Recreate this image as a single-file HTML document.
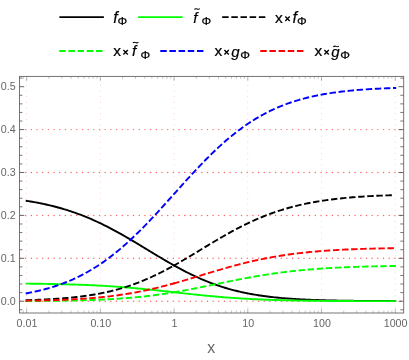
<!DOCTYPE html>
<html><head><meta charset="utf-8"><title>plot</title>
<style>html,body{margin:0;padding:0;background:#fff;}svg{display:block;will-change:transform;font-family:"Liberation Sans",sans-serif;}</style></head>
<body>
<svg width="409" height="360" viewBox="0 0 409 360">
<rect width="409" height="360" fill="#fff"/>
<g stroke="#ff6262" stroke-width="1.45" stroke-linecap="round" stroke-dasharray="0 5.68" fill="none">
<path d="M20.00 301.20 H403.70"/>
<path d="M20.00 258.30 H403.70"/>
<path d="M20.00 215.40 H403.70"/>
<path d="M20.00 172.50 H403.70"/>
<path d="M20.00 129.60 H403.70"/>
</g>
<g stroke="#ffc4c4" stroke-width="1.0" stroke-linecap="round" stroke-dasharray="0 5.685" fill="none">
<path d="M26.65 312.70 V76.40"/>
<path d="M100.37 312.70 V76.40"/>
<path d="M174.09 312.70 V76.40"/>
<path d="M247.81 312.70 V76.40"/>
<path d="M321.53 312.70 V76.40"/>
<path d="M395.25 312.70 V76.40"/>
</g>
<clipPath id="c"><rect x="19.5" y="76.4" width="384.2" height="236.6"/></clipPath>
<g fill="none" stroke-width="1.9" stroke-linejoin="round" stroke-linecap="square" clip-path="url(#c)">
<path d="M26.65 200.86 L28.50 201.15 L30.35 201.45 L32.21 201.77 L34.06 202.09 L35.91 202.43 L37.76 202.78 L39.62 203.14 L41.47 203.51 L43.32 203.90 L45.17 204.30 L47.02 204.71 L48.88 205.13 L50.73 205.57 L52.58 206.03 L54.43 206.50 L56.29 206.98 L58.14 207.48 L59.99 207.99 L61.84 208.52 L63.70 209.07 L65.55 209.63 L67.40 210.21 L69.25 210.80 L71.10 211.41 L72.96 212.04 L74.81 212.68 L76.66 213.34 L78.51 214.02 L80.37 214.71 L82.22 215.43 L84.07 216.15 L85.92 216.90 L87.77 217.66 L89.63 218.44 L91.48 219.24 L93.33 220.06 L95.18 220.89 L97.04 221.74 L98.89 222.60 L100.74 223.48 L102.59 224.38 L104.44 225.29 L106.30 226.22 L108.15 227.16 L110.00 228.12 L111.85 229.09 L113.71 230.07 L115.56 231.07 L117.41 232.08 L119.26 233.11 L121.12 234.14 L122.97 235.19 L124.82 236.25 L126.67 237.31 L128.52 238.39 L130.38 239.47 L132.23 240.57 L134.08 241.66 L135.93 242.77 L137.79 243.88 L139.64 244.99 L141.49 246.11 L143.34 247.23 L145.19 248.36 L147.05 249.48 L148.90 250.60 L150.75 251.73 L152.60 252.85 L154.46 253.97 L156.31 255.08 L158.16 256.19 L160.01 257.30 L161.87 258.40 L163.72 259.49 L165.57 260.58 L167.42 261.66 L169.27 262.72 L171.13 263.78 L172.98 264.83 L174.83 265.86 L176.68 266.89 L178.54 267.90 L180.39 268.89 L182.24 269.88 L184.09 270.84 L185.94 271.80 L187.80 272.73 L189.65 273.65 L191.50 274.56 L193.35 275.44 L195.21 276.31 L197.06 277.16 L198.91 278.00 L200.76 278.81 L202.61 279.61 L204.47 280.39 L206.32 281.15 L208.17 281.89 L210.02 282.61 L211.88 283.32 L213.73 284.00 L215.58 284.67 L217.43 285.31 L219.29 285.94 L221.14 286.55 L222.99 287.14 L224.84 287.72 L226.69 288.27 L228.55 288.81 L230.40 289.33 L232.25 289.83 L234.10 290.32 L235.96 290.79 L237.81 291.24 L239.66 291.67 L241.51 292.09 L243.36 292.50 L245.22 292.89 L247.07 293.26 L248.92 293.63 L250.77 293.97 L252.63 294.30 L254.48 294.62 L256.33 294.93 L258.18 295.23 L260.03 295.51 L261.89 295.78 L263.74 296.04 L265.59 296.29 L267.44 296.52 L269.30 296.75 L271.15 296.97 L273.00 297.18 L274.85 297.37 L276.71 297.56 L278.56 297.74 L280.41 297.92 L282.26 298.08 L284.11 298.24 L285.97 298.39 L287.82 298.53 L289.67 298.67 L291.52 298.80 L293.38 298.92 L295.23 299.04 L297.08 299.15 L298.93 299.26 L300.78 299.36 L302.64 299.45 L304.49 299.54 L306.34 299.63 L308.19 299.71 L310.05 299.79 L311.90 299.87 L313.75 299.94 L315.60 300.00 L317.46 300.07 L319.31 300.13 L321.16 300.19 L323.01 300.24 L324.86 300.29 L326.72 300.34 L328.57 300.39 L330.42 300.43 L332.27 300.47 L334.13 300.51 L335.98 300.55 L337.83 300.58 L339.68 300.62 L341.53 300.65 L343.39 300.68 L345.24 300.71 L347.09 300.73 L348.94 300.76 L350.80 300.78 L352.65 300.81 L354.50 300.83 L356.35 300.85 L358.20 300.87 L360.06 300.89 L361.91 300.90 L363.76 300.92 L365.61 300.94 L367.47 300.95 L369.32 300.96 L371.17 300.98 L373.02 300.99 L374.88 301.00 L376.73 301.01 L378.58 301.02 L380.43 301.03 L382.28 301.04 L384.14 301.05 L385.99 301.06 L387.84 301.07 L389.69 301.07 L391.55 301.08 L393.40 301.09 L395.25 301.09" stroke="#000"/>
<path d="M26.65 283.65 L28.50 283.67 L30.35 283.69 L32.21 283.71 L34.06 283.73 L35.91 283.75 L37.76 283.77 L39.62 283.80 L41.47 283.82 L43.32 283.85 L45.17 283.88 L47.02 283.91 L48.88 283.94 L50.73 283.97 L52.58 284.01 L54.43 284.04 L56.29 284.08 L58.14 284.12 L59.99 284.16 L61.84 284.21 L63.70 284.25 L65.55 284.30 L67.40 284.35 L69.25 284.40 L71.10 284.45 L72.96 284.51 L74.81 284.57 L76.66 284.63 L78.51 284.69 L80.37 284.76 L82.22 284.83 L84.07 284.90 L85.92 284.98 L87.77 285.05 L89.63 285.13 L91.48 285.22 L93.33 285.31 L95.18 285.40 L97.04 285.49 L98.89 285.59 L100.74 285.69 L102.59 285.79 L104.44 285.90 L106.30 286.01 L108.15 286.12 L110.00 286.24 L111.85 286.36 L113.71 286.49 L115.56 286.62 L117.41 286.75 L119.26 286.88 L121.12 287.02 L122.97 287.17 L124.82 287.32 L126.67 287.47 L128.52 287.62 L130.38 287.78 L132.23 287.94 L134.08 288.10 L135.93 288.27 L137.79 288.44 L139.64 288.62 L141.49 288.79 L143.34 288.97 L145.19 289.16 L147.05 289.34 L148.90 289.53 L150.75 289.72 L152.60 289.91 L154.46 290.11 L156.31 290.31 L158.16 290.50 L160.01 290.70 L161.87 290.91 L163.72 291.11 L165.57 291.31 L167.42 291.52 L169.27 291.73 L171.13 291.93 L172.98 292.14 L174.83 292.35 L176.68 292.55 L178.54 292.76 L180.39 292.96 L182.24 293.17 L184.09 293.37 L185.94 293.58 L187.80 293.78 L189.65 293.98 L191.50 294.18 L193.35 294.38 L195.21 294.57 L197.06 294.77 L198.91 294.96 L200.76 295.15 L202.61 295.33 L204.47 295.52 L206.32 295.70 L208.17 295.87 L210.02 296.05 L211.88 296.22 L213.73 296.39 L215.58 296.55 L217.43 296.72 L219.29 296.87 L221.14 297.03 L222.99 297.18 L224.84 297.33 L226.69 297.47 L228.55 297.61 L230.40 297.75 L232.25 297.88 L234.10 298.01 L235.96 298.14 L237.81 298.26 L239.66 298.38 L241.51 298.49 L243.36 298.61 L245.22 298.71 L247.07 298.82 L248.92 298.92 L250.77 299.02 L252.63 299.11 L254.48 299.20 L256.33 299.29 L258.18 299.37 L260.03 299.46 L261.89 299.53 L263.74 299.61 L265.59 299.68 L267.44 299.75 L269.30 299.82 L271.15 299.88 L273.00 299.94 L274.85 300.00 L276.71 300.06 L278.56 300.11 L280.41 300.17 L282.26 300.22 L284.11 300.26 L285.97 300.31 L287.82 300.35 L289.67 300.40 L291.52 300.44 L293.38 300.47 L295.23 300.51 L297.08 300.54 L298.93 300.58 L300.78 300.61 L302.64 300.64 L304.49 300.67 L306.34 300.69 L308.19 300.72 L310.05 300.75 L311.90 300.77 L313.75 300.79 L315.60 300.81 L317.46 300.83 L319.31 300.85 L321.16 300.87 L323.01 300.89 L324.86 300.90 L326.72 300.92 L328.57 300.93 L330.42 300.95 L332.27 300.96 L334.13 300.97 L335.98 300.99 L337.83 301.00 L339.68 301.01 L341.53 301.02 L343.39 301.03 L345.24 301.04 L347.09 301.05 L348.94 301.06 L350.80 301.06 L352.65 301.07 L354.50 301.08 L356.35 301.08 L358.20 301.09 L360.06 301.10 L361.91 301.10 L363.76 301.11 L365.61 301.11 L367.47 301.12 L369.32 301.12 L371.17 301.13 L373.02 301.13 L374.88 301.13 L376.73 301.14 L378.58 301.14 L380.43 301.14 L382.28 301.15 L384.14 301.15 L385.99 301.15 L387.84 301.16 L389.69 301.16 L391.55 301.16 L393.40 301.16 L395.25 301.16" stroke="#00ff00"/>
<path d="M26.65 300.20 L28.31 300.15 L29.96 300.09 L31.62 300.04 L33.28 299.98 L34.93 299.92 L36.59 299.85 L38.25 299.79 L39.90 299.72 L41.56 299.64 L43.22 299.57 L44.87 299.49 L46.53 299.40 L48.19 299.31 L49.84 299.22 L51.50 299.13 L53.16 299.03 L54.81 298.92 L56.47 298.81 L58.13 298.69 L59.78 298.57 L61.44 298.45 L63.10 298.32 L64.75 298.18 L66.41 298.04 L68.07 297.89 L69.72 297.74 L71.38 297.57 L73.04 297.40 L74.69 297.23 L76.35 297.05 L78.01 296.86 L79.66 296.66 L81.32 296.45 L82.98 296.24 L84.63 296.01 L86.29 295.78 L87.95 295.54 L89.60 295.29 L91.26 295.03 L92.92 294.76 L94.57 294.48 L96.23 294.19 L97.89 293.88 L99.54 293.57 L101.20 293.25 L102.85 292.91 L104.51 292.56 L106.17 292.21 L107.82 291.83 L109.48 291.45 L111.14 291.05 L112.79 290.64 L114.45 290.22 L116.11 289.78 L117.76 289.33 L119.42 288.87 L121.08 288.39 L122.73 287.90 L124.39 287.39 L126.05 286.87 L127.70 286.34 L129.36 285.79 L131.02 285.22 L132.67 284.64 L134.33 284.05 L135.99 283.44 L137.64 282.81 L139.30 282.17 L140.96 281.51 L142.61 280.84 L144.27 280.16 L145.93 279.46 L147.58 278.74 L149.24 278.01 L150.90 277.27 L152.55 276.51 L154.21 275.73 L155.87 274.95 L157.52 274.15 L159.18 273.33 L160.84 272.50 L162.49 271.66 L164.15 270.81 L165.81 269.95 L167.46 269.07 L169.12 268.18 L170.78 267.28 L172.43 266.37 L174.09 265.45" stroke="#000" stroke-dasharray="4.548 4.548"/>
<path d="M174.09 265.45 L175.80 264.49 L177.52 263.52 L179.23 262.53 L180.95 261.55 L182.66 260.55 L184.38 259.54 L186.09 258.53 L187.81 257.51 L189.52 256.49 L191.23 255.46 L192.95 254.43 L194.66 253.40 L196.38 252.36 L198.09 251.32 L199.81 250.28 L201.52 249.24 L203.24 248.20 L204.95 247.16 L206.66 246.13 L208.38 245.09 L210.09 244.06 L211.81 243.03 L213.52 242.01 L215.24 240.99 L216.95 239.98 L218.66 238.97 L220.38 237.97 L222.09 236.97 L223.81 235.99 L225.52 235.01 L227.24 234.05 L228.95 233.09 L230.67 232.14 L232.38 231.20 L234.09 230.28 L235.81 229.36 L237.52 228.46 L239.24 227.57 L240.95 226.69 L242.67 225.82 L244.38 224.97 L246.10 224.13 L247.81 223.30 L249.52 222.49 L251.24 221.69 L252.95 220.91 L254.67 220.14 L256.38 219.38 L258.10 218.64 L259.81 217.91 L261.53 217.20 L263.24 216.50 L264.95 215.82 L266.67 215.15 L268.38 214.50 L270.10 213.86 L271.81 213.24 L273.53 212.63 L275.24 212.03 L276.96 211.45 L278.67 210.88 L280.38 210.33 L282.10 209.79 L283.81 209.27 L285.53 208.76 L287.24 208.26 L288.96 207.78 L290.67 207.31 L292.38 206.85 L294.10 206.41 L295.81 205.97 L297.53 205.56 L299.24 205.15 L300.96 204.75 L302.67 204.37 L304.39 204.00 L306.10 203.64 L307.81 203.29 L309.53 202.95 L311.24 202.62 L312.96 202.30 L314.67 201.99 L316.39 201.70 L318.10 201.41 L319.82 201.13 L321.53 200.86 L323.24 200.60 L324.96 200.35 L326.67 200.10 L328.39 199.87 L330.10 199.64 L331.82 199.42 L333.53 199.21 L335.25 199.00 L336.96 198.81 L338.67 198.62 L340.39 198.43 L342.10 198.26 L343.82 198.09 L345.53 197.92 L347.25 197.76 L348.96 197.61 L350.68 197.47 L352.39 197.32 L354.10 197.19 L355.82 197.06 L357.53 196.93 L359.25 196.81 L360.96 196.69 L362.68 196.58 L364.39 196.47 L366.10 196.37 L367.82 196.27 L369.53 196.17 L371.25 196.08 L372.96 195.99 L374.68 195.91 L376.39 195.82 L378.11 195.75 L379.82 195.67 L381.53 195.60 L383.25 195.53 L384.96 195.46 L386.68 195.40 L388.39 195.34 L390.11 195.28 L391.82 195.22 L393.54 195.17 L395.25 195.11" stroke="#000" stroke-dasharray="4.548 4.548"/>
<path d="M26.65 301.02 L28.31 301.02 L29.96 301.01 L31.62 301.00 L33.28 300.99 L34.93 300.97 L36.59 300.96 L38.25 300.95 L39.90 300.94 L41.56 300.92 L43.22 300.91 L44.87 300.89 L46.53 300.88 L48.19 300.86 L49.84 300.84 L51.50 300.83 L53.16 300.81 L54.81 300.79 L56.47 300.77 L58.13 300.74 L59.78 300.72 L61.44 300.70 L63.10 300.67 L64.75 300.64 L66.41 300.62 L68.07 300.59 L69.72 300.56 L71.38 300.52 L73.04 300.49 L74.69 300.45 L76.35 300.42 L78.01 300.38 L79.66 300.34 L81.32 300.30 L82.98 300.25 L84.63 300.20 L86.29 300.16 L87.95 300.11 L89.60 300.05 L91.26 300.00 L92.92 299.94 L94.57 299.88 L96.23 299.82 L97.89 299.75 L99.54 299.68 L101.20 299.61 L102.85 299.54 L104.51 299.46 L106.17 299.38 L107.82 299.29 L109.48 299.21 L111.14 299.12 L112.79 299.02 L114.45 298.92 L116.11 298.82 L117.76 298.72 L119.42 298.61 L121.08 298.49 L122.73 298.37 L124.39 298.25 L126.05 298.13 L127.70 297.99 L129.36 297.86 L131.02 297.72 L132.67 297.57 L134.33 297.42 L135.99 297.27 L137.64 297.11 L139.30 296.94 L140.96 296.77 L142.61 296.60 L144.27 296.42 L145.93 296.23 L147.58 296.04 L149.24 295.85 L150.90 295.64 L152.55 295.44 L154.21 295.23 L155.87 295.01 L157.52 294.78 L159.18 294.56 L160.84 294.32 L162.49 294.08 L164.15 293.84 L165.81 293.59 L167.46 293.33 L169.12 293.07 L170.78 292.81 L172.43 292.54 L174.09 292.11" stroke="#00ff00" stroke-dasharray="4.548 4.548"/>
<path d="M174.09 292.11 L175.80 291.97 L177.52 291.68 L179.23 291.38 L180.95 291.07 L182.66 290.77 L184.38 290.45 L186.09 290.13 L187.81 289.81 L189.52 289.49 L191.23 289.16 L192.95 288.83 L194.66 288.49 L196.38 288.15 L198.09 287.81 L199.81 287.47 L201.52 287.12 L203.24 286.77 L204.95 286.42 L206.66 286.07 L208.38 285.71 L210.09 285.36 L211.81 285.00 L213.52 284.65 L215.24 284.29 L216.95 283.94 L218.66 283.58 L220.38 283.22 L222.09 282.87 L223.81 282.52 L225.52 282.16 L227.24 281.81 L228.95 281.46 L230.67 281.11 L232.38 280.77 L234.09 280.42 L235.81 280.08 L237.52 279.75 L239.24 279.41 L240.95 279.08 L242.67 278.75 L244.38 278.42 L246.10 278.10 L247.81 277.78 L249.52 277.47 L251.24 277.16 L252.95 276.86 L254.67 276.55 L256.38 276.26 L258.10 275.96 L259.81 275.68 L261.53 275.39 L263.24 275.12 L264.95 274.84 L266.67 274.57 L268.38 274.31 L270.10 274.05 L271.81 273.80 L273.53 273.55 L275.24 273.31 L276.96 273.07 L278.67 272.84 L280.38 272.61 L282.10 272.38 L283.81 272.17 L285.53 271.95 L287.24 271.75 L288.96 271.54 L290.67 271.35 L292.38 271.15 L294.10 270.97 L295.81 270.78 L297.53 270.61 L299.24 270.43 L300.96 270.26 L302.67 270.10 L304.39 269.94 L306.10 269.78 L307.81 269.63 L309.53 269.49 L311.24 269.35 L312.96 269.21 L314.67 269.07 L316.39 268.94 L318.10 268.82 L319.82 268.70 L321.53 268.58 L323.24 268.46 L324.96 268.35 L326.67 268.25 L328.39 268.14 L330.10 268.04 L331.82 267.94 L333.53 267.85 L335.25 267.76 L336.96 267.67 L338.67 267.59 L340.39 267.51 L342.10 267.43 L343.82 267.35 L345.53 267.28 L347.25 267.20 L348.96 267.14 L350.68 267.07 L352.39 267.01 L354.10 266.94 L355.82 266.89 L357.53 266.83 L359.25 266.77 L360.96 266.72 L362.68 266.67 L364.39 266.62 L366.10 266.57 L367.82 266.53 L369.53 266.48 L371.25 266.44 L372.96 266.40 L374.68 266.36 L376.39 266.32 L378.11 266.29 L379.82 266.25 L381.53 266.22 L383.25 266.19 L384.96 266.16 L386.68 266.13 L388.39 266.10 L390.11 266.07 L391.82 266.05 L393.54 266.02 L395.25 266.00" stroke="#00ff00" stroke-dasharray="4.548 4.548"/>
<path d="M26.65 293.29 L28.31 292.98 L29.96 292.66 L31.62 292.32 L33.28 291.98 L34.93 291.62 L36.59 291.25 L38.25 290.87 L39.90 290.47 L41.56 290.07 L43.22 289.64 L44.87 289.21 L46.53 288.76 L48.19 288.29 L49.84 287.81 L51.50 287.31 L53.16 286.80 L54.81 286.28 L56.47 285.73 L58.13 285.17 L59.78 284.59 L61.44 283.99 L63.10 283.38 L64.75 282.74 L66.41 282.09 L68.07 281.42 L69.72 280.73 L71.38 280.02 L73.04 279.29 L74.69 278.54 L76.35 277.77 L78.01 276.97 L79.66 276.16 L81.32 275.32 L82.98 274.46 L84.63 273.58 L86.29 272.68 L87.95 271.75 L89.60 270.80 L91.26 269.83 L92.92 268.83 L94.57 267.81 L96.23 266.77 L97.89 265.70 L99.54 264.61 L101.20 263.50 L102.85 262.36 L104.51 261.19 L106.17 260.00 L107.82 258.79 L109.48 257.55 L111.14 256.29 L112.79 255.01 L114.45 253.70 L116.11 252.36 L117.76 251.01 L119.42 249.62 L121.08 248.22 L122.73 246.79 L124.39 245.34 L126.05 243.87 L127.70 242.38 L129.36 240.86 L131.02 239.32 L132.67 237.76 L134.33 236.18 L135.99 234.58 L137.64 232.97 L139.30 231.33 L140.96 229.67 L142.61 228.00 L144.27 226.31 L145.93 224.61 L147.58 222.89 L149.24 221.15 L150.90 219.40 L152.55 217.64 L154.21 215.87 L155.87 214.08 L157.52 212.28 L159.18 210.48 L160.84 208.66 L162.49 206.84 L164.15 205.01 L165.81 203.18 L167.46 201.34 L169.12 199.50 L170.78 197.65 L172.43 195.80 L174.09 193.95" stroke="#0000ff" stroke-dasharray="4.548 4.548"/>
<path d="M174.09 193.95 L175.80 192.04 L177.52 190.12 L179.23 188.21 L180.95 186.30 L182.66 184.40 L184.38 182.50 L186.09 180.61 L187.81 178.73 L189.52 176.85 L191.23 174.99 L192.95 173.13 L194.66 171.29 L196.38 169.46 L198.09 167.64 L199.81 165.84 L201.52 164.05 L203.24 162.28 L204.95 160.52 L206.66 158.79 L208.38 157.07 L210.09 155.37 L211.81 153.69 L213.52 152.03 L215.24 150.39 L216.95 148.78 L218.66 147.18 L220.38 145.61 L222.09 144.06 L223.81 142.54 L225.52 141.04 L227.24 139.56 L228.95 138.11 L230.67 136.69 L232.38 135.29 L234.09 133.91 L235.81 132.56 L237.52 131.24 L239.24 129.94 L240.95 128.67 L242.67 127.42 L244.38 126.20 L246.10 125.01 L247.81 123.84 L249.52 122.70 L251.24 121.58 L252.95 120.49 L254.67 119.43 L256.38 118.39 L258.10 117.38 L259.81 116.39 L261.53 115.42 L263.24 114.48 L264.95 113.57 L266.67 112.68 L268.38 111.81 L270.10 110.96 L271.81 110.14 L273.53 109.34 L275.24 108.57 L276.96 107.81 L278.67 107.08 L280.38 106.37 L282.10 105.68 L283.81 105.01 L285.53 104.36 L287.24 103.72 L288.96 103.11 L290.67 102.52 L292.38 101.95 L294.10 101.39 L295.81 100.85 L297.53 100.33 L299.24 99.82 L300.96 99.34 L302.67 98.86 L304.39 98.41 L306.10 97.97 L307.81 97.54 L309.53 97.13 L311.24 96.73 L312.96 96.34 L314.67 95.97 L316.39 95.61 L318.10 95.27 L319.82 94.93 L321.53 94.61 L323.24 94.30 L324.96 94.00 L326.67 93.71 L328.39 93.44 L330.10 93.17 L331.82 92.91 L333.53 92.66 L335.25 92.42 L336.96 92.19 L338.67 91.97 L340.39 91.75 L342.10 91.55 L343.82 91.35 L345.53 91.16 L347.25 90.98 L348.96 90.80 L350.68 90.63 L352.39 90.47 L354.10 90.31 L355.82 90.16 L357.53 90.02 L359.25 89.88 L360.96 89.75 L362.68 89.62 L364.39 89.50 L366.10 89.38 L367.82 89.27 L369.53 89.16 L371.25 89.05 L372.96 88.95 L374.68 88.86 L376.39 88.76 L378.11 88.68 L379.82 88.59 L381.53 88.51 L383.25 88.43 L384.96 88.36 L386.68 88.29 L388.39 88.22 L390.11 88.15 L391.82 88.09 L393.54 88.03 L395.25 87.97" stroke="#0000ff" stroke-dasharray="4.548 4.548"/>
<path d="M26.65 300.70 L28.31 300.67 L29.96 300.65 L31.62 300.62 L33.28 300.59 L34.93 300.56 L36.59 300.53 L38.25 300.49 L39.90 300.46 L41.56 300.42 L43.22 300.38 L44.87 300.34 L46.53 300.30 L48.19 300.26 L49.84 300.21 L51.50 300.16 L53.16 300.11 L54.81 300.06 L56.47 300.00 L58.13 299.95 L59.78 299.89 L61.44 299.82 L63.10 299.76 L64.75 299.69 L66.41 299.62 L68.07 299.55 L69.72 299.47 L71.38 299.39 L73.04 299.30 L74.69 299.21 L76.35 299.12 L78.01 299.03 L79.66 298.93 L81.32 298.83 L82.98 298.72 L84.63 298.61 L86.29 298.49 L87.95 298.37 L89.60 298.24 L91.26 298.11 L92.92 297.98 L94.57 297.84 L96.23 297.69 L97.89 297.54 L99.54 297.39 L101.20 297.22 L102.85 297.06 L104.51 296.88 L106.17 296.70 L107.82 296.52 L109.48 296.32 L111.14 296.13 L112.79 295.92 L114.45 295.71 L116.11 295.49 L117.76 295.27 L119.42 295.03 L121.08 294.80 L122.73 294.55 L124.39 294.30 L126.05 294.04 L127.70 293.77 L129.36 293.49 L131.02 293.21 L132.67 292.92 L134.33 292.62 L135.99 292.32 L137.64 292.01 L139.30 291.68 L140.96 291.36 L142.61 291.02 L144.27 290.68 L145.93 290.33 L147.58 289.97 L149.24 289.61 L150.90 289.23 L152.55 288.85 L154.21 288.47 L155.87 288.07 L157.52 287.67 L159.18 287.27 L160.84 286.85 L162.49 286.43 L164.15 286.01 L165.81 285.57 L167.46 285.13 L169.12 284.69 L170.78 284.24 L172.43 283.79 L174.09 283.33" stroke="#ff0000" stroke-dasharray="4.548 4.548"/>
<path d="M174.09 283.33 L175.80 282.84 L177.52 282.36 L179.23 281.87 L180.95 281.37 L182.66 280.87 L184.38 280.37 L186.09 279.87 L187.81 279.36 L189.52 278.85 L191.23 278.33 L192.95 277.82 L194.66 277.30 L196.38 276.78 L198.09 276.26 L199.81 275.74 L201.52 275.22 L203.24 274.70 L204.95 274.18 L206.66 273.66 L208.38 273.15 L210.09 272.63 L211.81 272.12 L213.52 271.60 L215.24 271.09 L216.95 270.59 L218.66 270.08 L220.38 269.58 L222.09 269.09 L223.81 268.60 L225.52 268.11 L227.24 267.62 L228.95 267.14 L230.67 266.67 L232.38 266.20 L234.09 265.74 L235.81 265.28 L237.52 264.83 L239.24 264.38 L240.95 263.94 L242.67 263.51 L244.38 263.08 L246.10 262.66 L247.81 262.25 L249.52 261.85 L251.24 261.45 L252.95 261.05 L254.67 260.67 L256.38 260.29 L258.10 259.92 L259.81 259.56 L261.53 259.20 L263.24 258.85 L264.95 258.51 L266.67 258.18 L268.38 257.85 L270.10 257.53 L271.81 257.22 L273.53 256.91 L275.24 256.62 L276.96 256.33 L278.67 256.04 L280.38 255.77 L282.10 255.50 L283.81 255.24 L285.53 254.98 L287.24 254.73 L288.96 254.49 L290.67 254.25 L292.38 254.03 L294.10 253.80 L295.81 253.59 L297.53 253.38 L299.24 253.17 L300.96 252.98 L302.67 252.78 L304.39 252.60 L306.10 252.42 L307.81 252.24 L309.53 252.07 L311.24 251.91 L312.96 251.75 L314.67 251.60 L316.39 251.45 L318.10 251.30 L319.82 251.16 L321.53 251.03 L323.24 250.90 L324.96 250.77 L326.67 250.65 L328.39 250.53 L330.10 250.42 L331.82 250.31 L333.53 250.20 L335.25 250.10 L336.96 250.00 L338.67 249.91 L340.39 249.82 L342.10 249.73 L343.82 249.64 L345.53 249.56 L347.25 249.48 L348.96 249.41 L350.68 249.33 L352.39 249.26 L354.10 249.19 L355.82 249.13 L357.53 249.07 L359.25 249.00 L360.96 248.95 L362.68 248.89 L364.39 248.84 L366.10 248.78 L367.82 248.73 L369.53 248.69 L371.25 248.64 L372.96 248.60 L374.68 248.55 L376.39 248.51 L378.11 248.47 L379.82 248.44 L381.53 248.40 L383.25 248.36 L384.96 248.33 L386.68 248.30 L388.39 248.27 L390.11 248.24 L391.82 248.21 L393.54 248.18 L395.25 248.16" stroke="#ff0000" stroke-dasharray="4.548 4.548"/>
</g>
<g stroke="#666" stroke-width="0.9" fill="none">
<rect x="19.5" y="76.4" width="384.2" height="236.6"/>
<path d="M19.50 301.20 h4.7 M403.70 301.20 h-5.2 M19.50 258.30 h4.7 M403.70 258.30 h-5.2 M19.50 215.40 h4.7 M403.70 215.40 h-5.2 M19.50 172.50 h4.7 M403.70 172.50 h-5.2 M19.50 129.60 h4.7 M403.70 129.60 h-5.2 M19.50 86.70 h4.7 M403.70 86.70 h-5.2" stroke-width="1"/>
<path d="M19.50 309.78 h2.9 M403.70 309.78 h-3.4 M19.50 292.62 h2.9 M403.70 292.62 h-3.4 M19.50 284.04 h2.9 M403.70 284.04 h-3.4 M19.50 275.46 h2.9 M403.70 275.46 h-3.4 M19.50 266.88 h2.9 M403.70 266.88 h-3.4 M19.50 249.72 h2.9 M403.70 249.72 h-3.4 M19.50 241.14 h2.9 M403.70 241.14 h-3.4 M19.50 232.56 h2.9 M403.70 232.56 h-3.4 M19.50 223.98 h2.9 M403.70 223.98 h-3.4 M19.50 206.82 h2.9 M403.70 206.82 h-3.4 M19.50 198.24 h2.9 M403.70 198.24 h-3.4 M19.50 189.66 h2.9 M403.70 189.66 h-3.4 M19.50 181.08 h2.9 M403.70 181.08 h-3.4 M19.50 163.92 h2.9 M403.70 163.92 h-3.4 M19.50 155.34 h2.9 M403.70 155.34 h-3.4 M19.50 146.76 h2.9 M403.70 146.76 h-3.4 M19.50 138.18 h2.9 M403.70 138.18 h-3.4 M19.50 121.02 h2.9 M403.70 121.02 h-3.4 M19.50 112.44 h2.9 M403.70 112.44 h-3.4 M19.50 103.86 h2.9 M403.70 103.86 h-3.4 M19.50 95.28 h2.9 M403.70 95.28 h-3.4 M19.50 78.12 h2.9 M403.70 78.12 h-3.4" stroke-width="0.9"/>
<path d="M26.65 313.00 v-4.4 M26.65 76.40 v4.4 M100.37 313.00 v-4.4 M100.37 76.40 v4.4 M174.09 313.00 v-4.4 M174.09 76.40 v4.4 M247.81 313.00 v-4.4 M247.81 76.40 v4.4 M321.53 313.00 v-4.4 M321.53 76.40 v4.4 M395.25 313.00 v-4.4 M395.25 76.40 v4.4" stroke-width="0.48"/>
<path d="M23.28 313.00 v-2.5 M23.28 76.40 v2.5 M48.84 313.00 v-2.5 M48.84 76.40 v2.5 M61.82 313.00 v-2.5 M61.82 76.40 v2.5 M71.03 313.00 v-2.5 M71.03 76.40 v2.5 M78.18 313.00 v-2.5 M78.18 76.40 v2.5 M84.02 313.00 v-2.5 M84.02 76.40 v2.5 M88.95 313.00 v-2.5 M88.95 76.40 v2.5 M93.23 313.00 v-2.5 M93.23 76.40 v2.5 M97.00 313.00 v-2.5 M97.00 76.40 v2.5 M122.56 313.00 v-2.5 M122.56 76.40 v2.5 M135.54 313.00 v-2.5 M135.54 76.40 v2.5 M144.75 313.00 v-2.5 M144.75 76.40 v2.5 M151.90 313.00 v-2.5 M151.90 76.40 v2.5 M157.74 313.00 v-2.5 M157.74 76.40 v2.5 M162.67 313.00 v-2.5 M162.67 76.40 v2.5 M166.95 313.00 v-2.5 M166.95 76.40 v2.5 M170.72 313.00 v-2.5 M170.72 76.40 v2.5 M196.28 313.00 v-2.5 M196.28 76.40 v2.5 M209.26 313.00 v-2.5 M209.26 76.40 v2.5 M218.47 313.00 v-2.5 M218.47 76.40 v2.5 M225.62 313.00 v-2.5 M225.62 76.40 v2.5 M231.46 313.00 v-2.5 M231.46 76.40 v2.5 M236.39 313.00 v-2.5 M236.39 76.40 v2.5 M240.67 313.00 v-2.5 M240.67 76.40 v2.5 M244.44 313.00 v-2.5 M244.44 76.40 v2.5 M270.00 313.00 v-2.5 M270.00 76.40 v2.5 M282.98 313.00 v-2.5 M282.98 76.40 v2.5 M292.19 313.00 v-2.5 M292.19 76.40 v2.5 M299.34 313.00 v-2.5 M299.34 76.40 v2.5 M305.18 313.00 v-2.5 M305.18 76.40 v2.5 M310.11 313.00 v-2.5 M310.11 76.40 v2.5 M314.39 313.00 v-2.5 M314.39 76.40 v2.5 M318.16 313.00 v-2.5 M318.16 76.40 v2.5 M343.72 313.00 v-2.5 M343.72 76.40 v2.5 M356.70 313.00 v-2.5 M356.70 76.40 v2.5 M365.91 313.00 v-2.5 M365.91 76.40 v2.5 M373.06 313.00 v-2.5 M373.06 76.40 v2.5 M378.90 313.00 v-2.5 M378.90 76.40 v2.5 M383.83 313.00 v-2.5 M383.83 76.40 v2.5 M388.11 313.00 v-2.5 M388.11 76.40 v2.5 M391.88 313.00 v-2.5 M391.88 76.40 v2.5" stroke-width="0.36"/>
</g>
<g fill="#666" font-size="10px">
<text transform="translate(15.6 304.6) scale(1.07 1)" text-anchor="end">0.0</text>
<text transform="translate(15.6 261.7) scale(1.07 1)" text-anchor="end">0.1</text>
<text transform="translate(15.6 218.8) scale(1.07 1)" text-anchor="end">0.2</text>
<text transform="translate(15.6 175.9) scale(1.07 1)" text-anchor="end">0.3</text>
<text transform="translate(15.6 133.0) scale(1.07 1)" text-anchor="end">0.4</text>
<text transform="translate(15.6 90.1) scale(1.07 1)" text-anchor="end">0.5</text>
<text transform="translate(27.0 326.6) scale(1.07 1)" text-anchor="middle">0.01</text>
<text transform="translate(100.8 326.6) scale(1.07 1)" text-anchor="middle">0.10</text>
<text transform="translate(174.5 326.6) scale(1.07 1)" text-anchor="middle">1</text>
<text transform="translate(248.2 326.6) scale(1.07 1)" text-anchor="middle">10</text>
<text transform="translate(321.9 326.6) scale(1.07 1)" text-anchor="middle">100</text>
<text transform="translate(395.6 326.6) scale(1.07 1)" text-anchor="middle">1000</text>
</g>
<text x="211.3" y="352.8" text-anchor="middle" font-size="15.8px" fill="#666">x</text>
<g fill="none" stroke-width="1.9">
<path d="M59.4 17.1 H103.9" stroke="#000"/>
<path d="M138.1 17.1 H182.6" stroke="#00ff00"/>
<path d="M223.1 17.1 H266.8" stroke="#000" stroke-dasharray="4.585 4.585" stroke-linecap="square"/>
<path d="M60.2 51 H103.9" stroke="#00ff00" stroke-dasharray="4.585 4.585" stroke-linecap="square"/>
<path d="M161.2 51 H204.9" stroke="#0000ff" stroke-dasharray="4.585 4.585" stroke-linecap="square"/>
<path d="M261.2 51 H304.9" stroke="#ff0000" stroke-dasharray="4.585 4.585" stroke-linecap="square"/>
</g>
<g fill="#000" stroke="#000" stroke-width="0.2">
<text x="113.2" y="22.6" font-size="16px" font-style="italic">f</text>
<text transform="translate(117.4 25.0) scale(1.17 1)" font-size="10.4px">Φ</text>
<text x="193.2" y="22.6" font-size="15px" font-style="italic">f</text>
<path d="M194.30 9.35 q1.40 -1.1 2.80 -0.35 t2.80 -0.35" fill="none" stroke="#000" stroke-width="1.05"/>
<text transform="translate(201.6 25.4) scale(1.17 1)" font-size="10.4px">Φ</text>
<text x="275.0" y="22.6" font-size="15.5px">x</text>
<path d="M285.30 16.50 l4.40 4.40 M285.30 20.90 l4.40 -4.40" fill="none" stroke="#000" stroke-width="1.35"/>
<text x="292.6" y="22.6" font-size="16px" font-style="italic">f</text>
<text transform="translate(296.9 24.9) scale(1.17 1)" font-size="10.4px">Φ</text>
<text x="113.2" y="55.9" font-size="15.5px">x</text>
<path d="M123.40 50.10 l4.40 4.40 M123.40 54.50 l4.40 -4.40" fill="none" stroke="#000" stroke-width="1.35"/>
<text x="132.0" y="55.9" font-size="15.5px" font-style="italic">f</text>
<path d="M132.80 42.95 q1.40 -1.1 2.80 -0.35 t2.80 -0.35" fill="none" stroke="#000" stroke-width="1.05"/>
<text transform="translate(140.4 58.9) scale(1.17 1)" font-size="10.4px">Φ</text>
<text x="214.6" y="55.9" font-size="15.5px">x</text>
<path d="M224.40 50.10 l4.40 4.40 M224.40 54.50 l4.40 -4.40" fill="none" stroke="#000" stroke-width="1.35"/>
<text x="231.3" y="56.5" font-size="15px" font-style="italic">g</text>
<text transform="translate(240.2 58.7) scale(1.17 1)" font-size="10.4px">Φ</text>
<text x="314.6" y="55.9" font-size="15.5px">x</text>
<path d="M324.40 50.10 l4.40 4.40 M324.40 54.50 l4.40 -4.40" fill="none" stroke="#000" stroke-width="1.35"/>
<text x="331.3" y="56.5" font-size="15px" font-style="italic">g</text>
<path d="M333.30 46.75 q1.40 -1.1 2.80 -0.35 t2.80 -0.35" fill="none" stroke="#000" stroke-width="1.05"/>
<text transform="translate(340.2 58.7) scale(1.17 1)" font-size="10.4px">Φ</text>
</g>
</svg>
</body></html>
